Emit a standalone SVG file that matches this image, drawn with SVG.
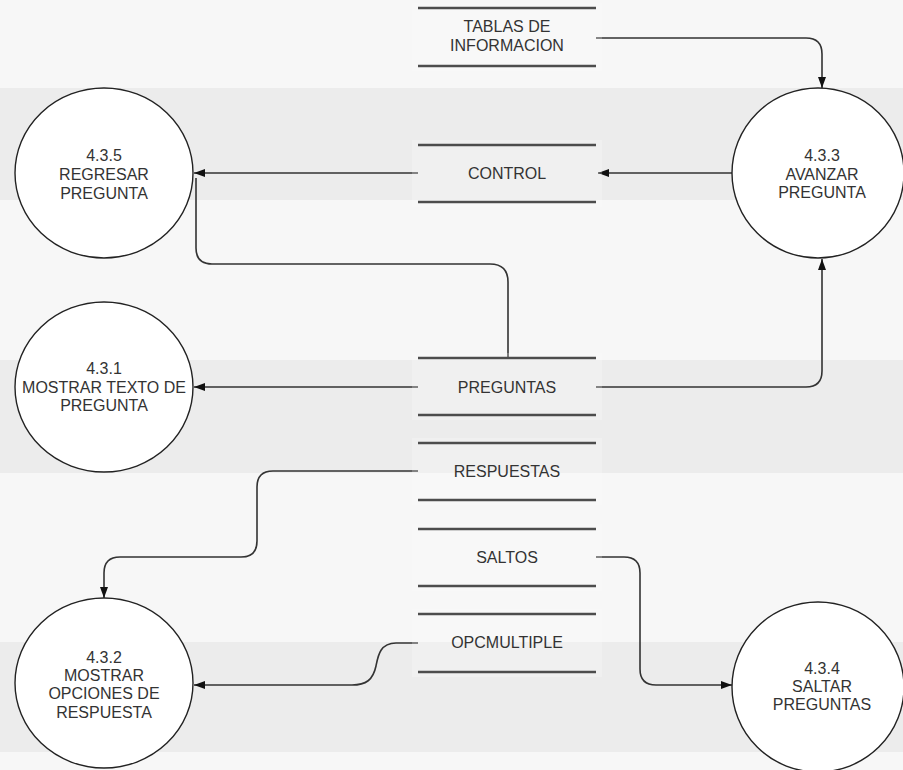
<svg xmlns="http://www.w3.org/2000/svg" width="903" height="770" viewBox="0 0 903 770">
  <defs>
    <style>
      .bg { fill: #f7f7f7; }
      .band { fill: #ececec; }
      .proc { fill: #ffffff; stroke: #222222; stroke-width: 1.4; }
      .lbl { font-family: "Liberation Sans", Arial, sans-serif; font-size: 16px; fill: #333333; text-anchor: middle; }
      .store-line { stroke: #4d4d4d; stroke-width: 2.4; }
      .store-halo { fill: #ffffff; opacity: 0.22; }
      .flow { fill: none; stroke: #333333; stroke-width: 1.6; }
    </style>
    <marker id="arrow" viewBox="0 0 11 8" refX="11" refY="4" markerWidth="11" markerHeight="8" markerUnits="userSpaceOnUse" orient="auto">
      <path d="M0,0 L11,4 L0,8 Z" fill="#111111"/>
    </marker>
  </defs>

  <!-- background bands -->
  <rect class="bg" x="0" y="0" width="903" height="770"/>
  <rect class="band" x="0" y="88" width="903" height="112"/>
  <rect class="band" x="0" y="360" width="903" height="113"/>
  <rect class="band" x="0" y="642" width="903" height="110"/>

  <!-- data flows -->
  <g id="connectors">
    <path class="flow" d="M596,38 H806 Q822,38 822,54 V88" marker-end="url(#arrow)"/>
    <path class="flow" d="M733,173 H598" marker-end="url(#arrow)"/>
    <path class="flow" d="M418,173 H194" marker-end="url(#arrow)"/>
    <path class="flow" d="M508,358 V282 Q508,264 490,264 H212 Q196,264 196,248 V178"/>
    <path class="flow" d="M418,387 H194" marker-end="url(#arrow)"/>
    <path class="flow" d="M596,387 H806 Q822,387 822,371 V259" marker-end="url(#arrow)"/>
    <path class="flow" d="M418,471 H273 Q257,471 257,487 V541 Q257,557 241,557 H120 Q104,557 104,573 V598" marker-end="url(#arrow)"/>
    <path class="flow" d="M596,557 H624 Q640,557 640,573 V669 Q640,685 656,685 H732" marker-end="url(#arrow)"/>
    <path class="flow" d="M418,643 H396 C380,643 378,656 376,666 C373,680 366,685 352,685 H194" marker-end="url(#arrow)"/>
  </g>

  <!-- processes -->
  <g id="p435">
    <ellipse class="proc" cx="104" cy="173" rx="89" ry="85"/>
    <text class="lbl" x="104" y="161">4.3.5</text>
    <text class="lbl" x="104" y="180">REGRESAR</text>
    <text class="lbl" x="104" y="199">PREGUNTA</text>
  </g>
  <g id="p433">
    <ellipse class="proc" cx="818" cy="173" rx="86" ry="85"/>
    <text class="lbl" x="822" y="161">4.3.3</text>
    <text class="lbl" x="822" y="180">AVANZAR</text>
    <text class="lbl" x="822" y="198">PREGUNTA</text>
  </g>
  <g id="p431">
    <ellipse class="proc" cx="104" cy="387" rx="89" ry="85"/>
    <text class="lbl" x="104" y="374">4.3.1</text>
    <text class="lbl" x="104" y="393">MOSTRAR TEXTO DE</text>
    <text class="lbl" x="104" y="411">PREGUNTA</text>
  </g>
  <g id="p432">
    <ellipse class="proc" cx="104" cy="683" rx="89" ry="85"/>
    <text class="lbl" x="104" y="663">4.3.2</text>
    <text class="lbl" x="104" y="681">MOSTRAR</text>
    <text class="lbl" x="104" y="699">OPCIONES DE</text>
    <text class="lbl" x="104" y="718">RESPUESTA</text>
  </g>
  <g id="p434">
    <ellipse class="proc" cx="818" cy="687" rx="86" ry="85"/>
    <text class="lbl" x="822" y="674">4.3.4</text>
    <text class="lbl" x="822" y="692">SALTAR</text>
    <text class="lbl" x="822" y="710">PREGUNTAS</text>
  </g>

  <!-- data stores -->
  <g id="ds-tablas">
    <rect class="store-halo" x="412" y="3" width="190" height="68"/>
    <line class="store-line" x1="418" y1="8" x2="596" y2="8"/>
    <line class="store-line" x1="418" y1="66" x2="596" y2="66"/>
    <text class="lbl" x="507" y="32">TABLAS DE</text>
    <text class="lbl" x="507" y="51">INFORMACION</text>
  </g>
  <g id="ds-control">
    <rect class="store-halo" x="412" y="140" width="190" height="67"/>
    <line class="store-line" x1="418" y1="145" x2="596" y2="145"/>
    <line class="store-line" x1="418" y1="202" x2="596" y2="202"/>
    <text class="lbl" x="507" y="179">CONTROL</text>
  </g>
  <g id="ds-preguntas">
    <rect class="store-halo" x="412" y="353" width="190" height="67"/>
    <line class="store-line" x1="418" y1="358" x2="596" y2="358"/>
    <line class="store-line" x1="418" y1="415" x2="596" y2="415"/>
    <text class="lbl" x="507" y="393">PREGUNTAS</text>
  </g>
  <g id="ds-respuestas">
    <rect class="store-halo" x="412" y="438" width="190" height="67"/>
    <line class="store-line" x1="418" y1="443" x2="596" y2="443"/>
    <line class="store-line" x1="418" y1="500" x2="596" y2="500"/>
    <text class="lbl" x="507" y="477">RESPUESTAS</text>
  </g>
  <g id="ds-saltos">
    <rect class="store-halo" x="412" y="524" width="190" height="67"/>
    <line class="store-line" x1="418" y1="529" x2="596" y2="529"/>
    <line class="store-line" x1="418" y1="586" x2="596" y2="586"/>
    <text class="lbl" x="507" y="563">SALTOS</text>
  </g>
  <g id="ds-opcmultiple">
    <rect class="store-halo" x="412" y="609" width="190" height="68"/>
    <line class="store-line" x1="418" y1="614" x2="596" y2="614"/>
    <line class="store-line" x1="418" y1="672" x2="596" y2="672"/>
    <text class="lbl" x="507" y="648">OPCMULTIPLE</text>
  </g>
</svg>
